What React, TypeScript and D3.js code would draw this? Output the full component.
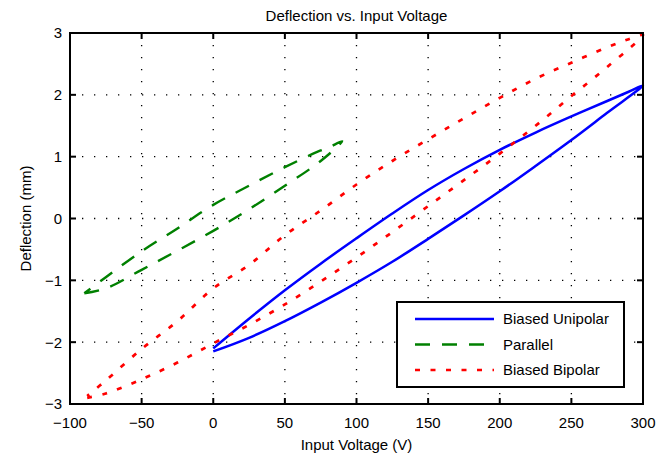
import React from 'react'
import * as d3 from 'd3'

// readings, in volts and mm
const xTicks = [-100, -50, 0, 50, 100, 150, 200, 250, 300]
const yTicks = [-3, -2, -1, 0, 1, 2, 3]

const unipolarUp = [
  [0, -2.15], [25, -1.93], [50, -1.66], [75, -1.36], [100, -1.04], [125, -0.7],
  [150, -0.33], [175, 0.05], [200, 0.44], [225, 0.85], [250, 1.27], [275, 1.71], [300, 2.15],
]
const unipolarDown = [
  [290, 2.05], [275, 1.9], [250, 1.65], [225, 1.39], [200, 1.11], [175, 0.8],
  [150, 0.46], [125, 0.08], [100, -0.32], [75, -0.73], [50, -1.16], [25, -1.62], [0, -2.1],
]

const parallelUp = [
  [-90, -1.21], [-75, -1.13], [-50, -0.83], [-25, -0.52], [0, -0.2], [25, 0.15],
  [50, 0.53], [75, 0.93], [90, 1.25],
]
const parallelDown = [
  [80, 1.14], [75, 1.1], [50, 0.83], [25, 0.53], [0, 0.22], [-25, -0.16],
  [-50, -0.53], [-75, -0.95], [-90, -1.21],
]

const bipolarUp = [
  [-88, -2.9], [-75, -2.83], [-50, -2.6], [-25, -2.33], [0, -2.02], [25, -1.72],
  [50, -1.39], [75, -1.02], [100, -0.63], [125, -0.22], [150, 0.2], [175, 0.62],
  [200, 1.05], [225, 1.5], [250, 1.98], [275, 2.45], [300, 2.97],
]
const bipolarDown = [
  [290, 2.9], [275, 2.77], [250, 2.52], [225, 2.26], [200, 1.95], [175, 1.62],
  [150, 1.28], [125, 0.93], [100, 0.55], [75, 0.13], [50, -0.27], [25, -0.75],
  [0, -1.13], [-25, -1.66], [-50, -2.11], [-75, -2.62], [-88, -2.87],
]

const series = [
  { name: 'Biased Unipolar', color: '#0000ff', dash: 'none', width: 2.5, data: [...unipolarUp, ...unipolarDown] },
  { name: 'Parallel', color: '#008000', dash: '15 12', width: 2.4, data: [...parallelUp, ...parallelDown] },
  { name: 'Biased Bipolar', color: '#ff0000', dash: '5 10.5', width: 2.7, data: [...bipolarUp, ...bipolarDown] },
]

function App() {
  const width = 669
  const height = 457
  const left = 70
  const right = 643
  const top = 33
  const bottom = 404

  const xScale = d3.scaleLinear().domain([-100, 300]).range([left, right])
  const yScale = d3.scaleLinear().domain([-3, 3]).range([bottom, top])

  const line = d3
    .line<number[]>()
    .x(d => xScale(d[0]))
    .y(d => yScale(d[1]))
    .curve(d3.curveCatmullRom)

  const fmt = (v: number) => (v < 0 ? `\u2212${Math.abs(v)}` : `${v}`)
  const font = 'Liberation Sans, Arial, Helvetica, sans-serif'

  return (
    <svg
      width={width}
      height={height}
      style={{ position: 'absolute', left: 0, top: 0, background: '#fff' }}
      fontFamily={font}
    >
      <rect width={width} height={height} fill="#fff" />

      {/* dotted grid */}
      {xTicks.slice(1, -1).map(t => (
        <line key={`gx${t}`} x1={xScale(t)} x2={xScale(t)} y1={top} y2={bottom}
          stroke="#000" strokeWidth={1.3} strokeDasharray="1.3 10.7" />
      ))}
      {yTicks.slice(1, -1).map(t => (
        <line key={`gy${t}`} x1={left} x2={right} y1={yScale(t)} y2={yScale(t)}
          stroke="#000" strokeWidth={1.3} strokeDasharray="1.3 10.7" />
      ))}

      {/* curves */}
      {series.map(s => (
        <path key={s.name} d={line(s.data) ?? ''} fill="none" stroke={s.color}
          strokeWidth={s.width} strokeDasharray={s.dash} strokeLinejoin="round" />
      ))}

      {/* ticks on all four sides */}
      {xTicks.map(t => (
        <g key={`tx${t}`}>
          <line x1={xScale(t)} x2={xScale(t)} y1={bottom} y2={bottom - 6} stroke="#000" strokeWidth={2} />
          <line x1={xScale(t)} x2={xScale(t)} y1={top} y2={top + 6} stroke="#000" strokeWidth={2} />
          <text x={xScale(t)} y={428} textAnchor="middle" fontSize={15}>{fmt(t)}</text>
        </g>
      ))}
      {yTicks.map(t => (
        <g key={`ty${t}`}>
          <line x1={left} x2={left + 6} y1={yScale(t)} y2={yScale(t)} stroke="#000" strokeWidth={2} />
          <line x1={right} x2={right - 6} y1={yScale(t)} y2={yScale(t)} stroke="#000" strokeWidth={2} />
          <text x={62} y={yScale(t)} dy="0.36em" textAnchor="end" fontSize={15}>{fmt(t)}</text>
        </g>
      ))}

      <rect x={left} y={top} width={right - left} height={bottom - top} fill="none" stroke="#000" strokeWidth={2} />

      {/* labels */}
      <text x={(left + right) / 2} y={21} textAnchor="middle" fontSize={15}>Deflection vs. Input Voltage</text>
      <text x={(left + right) / 2} y={450} textAnchor="middle" fontSize={15}>Input Voltage (V)</text>
      <text transform={`translate(31 ${(top + bottom) / 2}) rotate(-90)`} textAnchor="middle" fontSize={15}>Deflection (mm)</text>

      {/* legend */}
      <g>
        <rect x={397} y={302} width={227} height={85} fill="#fff" stroke="#000" strokeWidth={2} />
        {series.map((s, i) => {
          const y = 319 + i * 25.5
          return (
            <g key={`lg${s.name}`}>
              <line x1={415} x2={494} y1={y} y2={y} stroke={s.color} strokeWidth={s.width} strokeDasharray={s.dash} />
              <text x={503} y={y} dy="0.36em" fontSize={15}>{s.name}</text>
            </g>
          )
        })}
      </g>
    </svg>
  )
}

export default App
